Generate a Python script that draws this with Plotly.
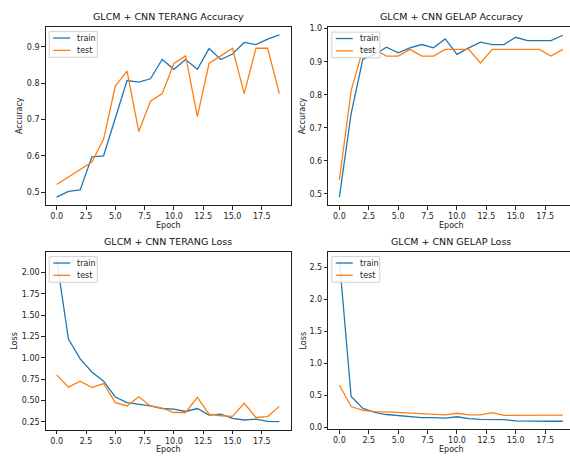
import plotly.graph_objects as go

epochs = list(range(20))

terang_acc_train = [0.486, 0.502, 0.506, 0.597, 0.600, 0.705, 0.807, 0.803, 0.812, 0.865,
                    0.838, 0.865, 0.838, 0.895, 0.865, 0.880, 0.912, 0.906, 0.921, 0.933]
terang_acc_test = [0.521, 0.542, 0.5625, 0.583, 0.646, 0.792, 0.833, 0.667, 0.750, 0.771,
                   0.854, 0.875, 0.708, 0.854, 0.875, 0.896, 0.771, 0.896, 0.896, 0.771]

gelap_acc_train = [0.490, 0.743, 0.908, 0.922, 0.944, 0.927, 0.942, 0.952, 0.942, 0.969,
                   0.922, 0.942, 0.959, 0.952, 0.952, 0.974, 0.964, 0.964, 0.964, 0.980]
gelap_acc_test = [0.542, 0.8125, 0.9375, 0.9375, 0.917, 0.917, 0.9375, 0.917, 0.917, 0.9375,
                  0.9375, 0.9375, 0.896, 0.9375, 0.9375, 0.9375, 0.9375, 0.9375, 0.917, 0.9375]

terang_loss_train = [2.15, 1.22, 0.988, 0.833, 0.725, 0.54, 0.474, 0.455, 0.435, 0.405,
                     0.397, 0.37, 0.405, 0.327, 0.34, 0.29, 0.27, 0.28, 0.254, 0.25]
terang_loss_test = [0.80, 0.655, 0.725, 0.65, 0.698, 0.474, 0.435, 0.543, 0.435, 0.409,
                    0.358, 0.358, 0.535, 0.34, 0.32, 0.313, 0.467, 0.30, 0.31, 0.43]

gelap_loss_train = [2.62, 0.485, 0.30, 0.24, 0.205, 0.19, 0.18, 0.155, 0.155, 0.15,
                    0.17, 0.14, 0.13, 0.125, 0.125, 0.105, 0.10, 0.10, 0.10, 0.10]
gelap_loss_test = [0.665, 0.33, 0.27, 0.25, 0.245, 0.235, 0.225, 0.22, 0.215, 0.20,
                   0.225, 0.20, 0.20, 0.235, 0.19, 0.19, 0.185, 0.19, 0.195, 0.195]

titles = ["GLCM + CNN TERANG Accuracy", "GLCM + CNN GELAP Accuracy",
          "GLCM + CNN TERANG Loss", "GLCM + CNN GELAP Loss"]
ylabels = ["Accuracy", "Accuracy", "Loss", "Loss"]
series_names = ["train", "test"]
xtick_vals = [0, 2.5, 5, 7.5, 10, 12.5, 15, 17.5]

W, H = 570, 456
COLORS = ["#1f77b4", "#ff7f0e"]
FONT = "DejaVu Sans"
TXT = "#222"

panels = [
    dict(train=terang_acc_train, test=terang_acc_test, xpx=(45.6, 290.5), ypx=(24, 205),
         xr=(-0.95, 19.95), dtick=0.1, fmt=".1f", ylab_x=20, mirror_y=True),
    dict(train=gelap_acc_train, test=gelap_acc_test, xpx=(328.2, 573.8), ypx=(24.5, 205),
         xr=(-0.95, 19.61), dtick=0.1, fmt=".1f", ylab_x=302, mirror_y=False),
    dict(train=terang_loss_train, test=terang_loss_test, xpx=(45.6, 290.5), ypx=(252, 432.5),
         xr=(-0.95, 19.95), dtick=0.25, fmt=".2f", ylab_x=15, mirror_y=True),
    dict(train=gelap_loss_train, test=gelap_loss_test, xpx=(328.2, 573.8), ypx=(252, 432),
         xr=(-0.95, 19.61), dtick=0.5, fmt=".1f", ylab_x=303, mirror_y=False),
]

fig = go.Figure()
annotations = []
shapes = []
layout = {}
for i, p in enumerate(panels):
    n = i + 1
    xa = "x" if n == 1 else f"x{n}"
    ya = "y" if n == 1 else f"y{n}"
    px0, px1 = p["xpx"]
    py0, py1 = p["ypx"]
    x0, x1 = px0 / W, min(px1, W) / W
    y0, y1 = 1 - py1 / H, 1 - py0 / H
    xc = (px0 + px1) / 2 / W
    allv = p["train"] + p["test"]
    lo, hi = min(allv), max(allv)
    pad = 0.05 * (hi - lo)
    for name, vals, col in zip(series_names, [p["train"], p["test"]], COLORS):
        fig.add_trace(go.Scatter(x=epochs, y=vals, mode="lines", name=name, showlegend=False,
                                 line=dict(color=col, width=1.3), xaxis=xa, yaxis=ya))
    common = dict(showline=True, linecolor="#222", linewidth=0.8, ticks="outside",
                  ticklen=3.5, tickwidth=0.8, tickcolor="#222", showgrid=False, zeroline=False,
                  tickfont=dict(family=FONT, size=8, color=TXT))
    layout["xaxis" if n == 1 else f"xaxis{n}"] = dict(
        domain=[x0, x1], range=list(p["xr"]), tickvals=xtick_vals, tickformat=".1f",
        anchor=ya, mirror=True, **common)
    layout["yaxis" if n == 1 else f"yaxis{n}"] = dict(
        domain=[y0, y1], range=[lo - pad, hi + pad], dtick=p["dtick"], tickformat=p["fmt"],
        anchor=xa, mirror=p["mirror_y"], **common)

    # legend box (manual, matplotlib-like)
    bx0, by0 = px0 + 3.6, py0 + 5
    bx1, by1 = bx0 + 48, by0 + 26
    shapes.append(dict(type="rect", xref="paper", yref="paper",
                       x0=bx0 / W, x1=bx1 / W, y0=1 - by1 / H, y1=1 - by0 / H,
                       line=dict(color="#d0d0d0", width=1), fillcolor="rgba(255,255,255,0.85)",
                       layer="above"))
    for k, (name, col) in enumerate(zip(series_names, COLORS)):
        ly = by0 + 6.5 + k * 12.5
        shapes.append(dict(type="line", xref="paper", yref="paper",
                           x0=(bx0 + 4) / W, x1=(bx0 + 21) / W, y0=1 - ly / H, y1=1 - ly / H,
                           line=dict(color=col, width=1.3), layer="above"))
        annotations.append(dict(text=name, xref="paper", yref="paper", x=(bx0 + 26) / W,
                                y=1 - ly / H, xanchor="left", yanchor="middle", showarrow=False,
                                font=dict(family=FONT, size=8, color=TXT)))
    # title
    annotations.append(dict(text=titles[i], xref="paper", yref="paper", x=xc, xanchor="center",
                            y=y1, yanchor="bottom", yshift=3, showarrow=False,
                            font=dict(family=FONT, size=9.5, color="#111")))
    # x label
    annotations.append(dict(text="Epoch", xref="paper", yref="paper", x=xc, xanchor="center",
                            y=1 - (py1 + 20) / H, yanchor="middle", showarrow=False,
                            font=dict(family=FONT, size=8, color=TXT)))
    # y label
    annotations.append(dict(text=ylabels[i], xref="paper", yref="paper",
                            x=p["ylab_x"] / W, y=(y0 + y1) / 2, xanchor="center", yanchor="middle",
                            textangle=-90, showarrow=False,
                            font=dict(family=FONT, size=8, color=TXT)))

fig.update_layout(width=W, height=H, margin=dict(l=0, r=0, t=0, b=0),
                  paper_bgcolor="white", plot_bgcolor="white", showlegend=False,
                  annotations=annotations, shapes=shapes, **layout)
fig.write_html("out.html")
